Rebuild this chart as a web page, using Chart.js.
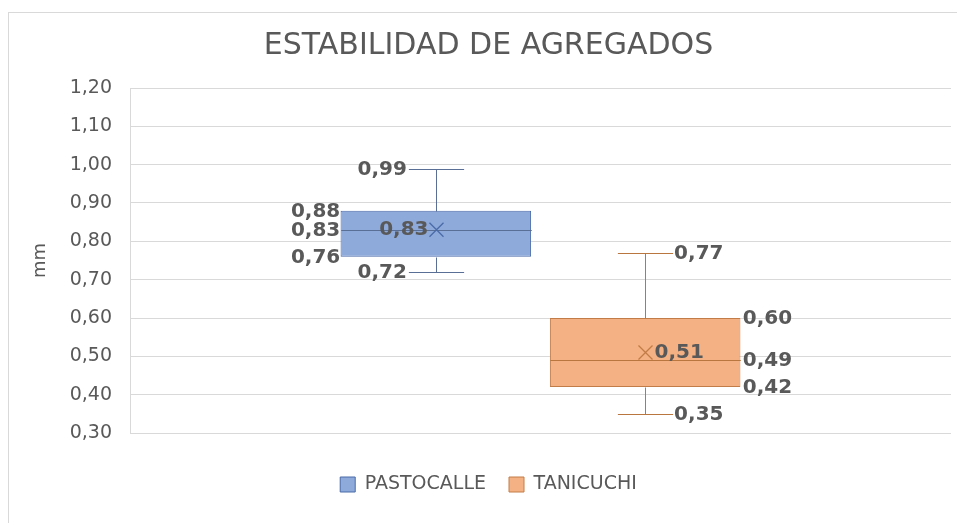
<!DOCTYPE html>
<html>
<head>
<meta charset="utf-8">
<title>Estabilidad de agregados</title>
<script src="https://cdn.jsdelivr.net/npm/chart.js@4/dist/chart.umd.min.js"></script>
<style>
  html, body { margin: 0; padding: 0; background: #fff; overflow: hidden; }
  #frame { position: absolute; left: 8px; top: 12px; width: 1000px; height: 600px; border: 1px solid #d9d9d9; }
  #wrap { position: absolute; left: 0; top: 0; width: 957px; height: 523px; }
</style>
</head>
<body>
<div id="frame"></div>
<div id="wrap"><canvas id="boxChart"></canvas></div>
<script>
// box plot summary per site (mm)
const seriesNames = ["PASTOCALLE", "TANICUCHI"];
const minValues = [0.72, 0.35];
const q1Values = [0.76, 0.42];
const medianValues = [0.83, 0.49];
const q3Values = [0.88, 0.60];
const maxValues = [0.99, 0.77];
const meanValues = [0.83, 0.51];
const yTickValues = [0.30, 0.40, 0.50, 0.60, 0.70, 0.80, 0.90, 1.00, 1.10, 1.20];

const fillColors = ["#8eaadb", "#f4b183"];
const edgeColors = ["#4a6aa8", "#c27c48"];
const whiskerColors = ["#5a6f96", "#b9773f"];
const labelSide = ["left", "right"];
const textColor = "#595959";

const fmt = v => v.toFixed(2).replace(".", ",");

// whiskers, median, mean marker and value labels drawn on top of the floating bars
const boxPlotPlugin = {
  id: "boxWhiskers",
  afterDatasetsDraw(chart) {
    const ctx = chart.ctx;
    const y = chart.scales.y;
    const px = v => Math.round(y.getPixelForValue(v)) + 0.5;

    chart.data.datasets.forEach((ds, i) => {
      const bar = chart.getDatasetMeta(i).data[0];
      const cx = Math.round(bar.x) + 0.5;
      const half = bar.width / 2;
      const capHalf = bar.width * 0.145;
      const yMin = px(minValues[i]);
      const yQ1 = px(q1Values[i]);
      const yMed = px(medianValues[i]);
      const yQ3 = px(q3Values[i]);
      const yMax = px(maxValues[i]);
      const yMean = y.getPixelForValue(meanValues[i]);

      ctx.save();
      ctx.lineWidth = 1;
      ctx.strokeStyle = whiskerColors[i];
      ctx.beginPath();
      ctx.moveTo(cx, yQ3); ctx.lineTo(cx, yMax);
      ctx.moveTo(cx - capHalf, yMax); ctx.lineTo(cx + capHalf, yMax);
      ctx.moveTo(cx, yQ1); ctx.lineTo(cx, yMin);
      ctx.moveTo(cx - capHalf, yMin); ctx.lineTo(cx + capHalf, yMin);
      ctx.moveTo(cx - half, yMed); ctx.lineTo(cx + half, yMed);
      ctx.stroke();

      // mean marker
      const m = 7;
      ctx.strokeStyle = edgeColors[i];
      ctx.lineWidth = 1.3;
      ctx.beginPath();
      ctx.moveTo(cx - m, yMean - m); ctx.lineTo(cx + m, yMean + m);
      ctx.moveTo(cx + m, yMean - m); ctx.lineTo(cx - m, yMean + m);
      ctx.stroke();

      // value labels
      ctx.fillStyle = textColor;
      ctx.font = "bold 20px 'DejaVu Sans'";
      ctx.textBaseline = "middle";
      const left = labelSide[i] === "left";
      ctx.textAlign = left ? "right" : "left";
      const capX = left ? cx - capHalf - 2 : cx + capHalf + 1;
      const boxX = left ? cx - half - 1 : cx + half + 2;
      const meanX = left ? cx - m - 1 : cx + m + 2;
      ctx.fillText(fmt(maxValues[i]), capX, yMax);
      ctx.fillText(fmt(minValues[i]), capX, yMin);
      ctx.fillText(fmt(q3Values[i]), boxX, yQ3);
      ctx.fillText(fmt(medianValues[i]), boxX, yMed);
      ctx.fillText(fmt(q1Values[i]), boxX, yQ1);
      ctx.fillText(fmt(meanValues[i]), meanX, yMean);
      ctx.restore();
    });
  }
};

const datasets = seriesNames.map((name, i) => ({
  label: name,
  data: [[q1Values[i], q3Values[i]]],
  backgroundColor: fillColors[i],
  borderColor: edgeColors[i],
  borderWidth: 1,
  borderSkipped: false,
  categoryPercentage: 0.51,
  barPercentage: 0.91
}));

new Chart(document.getElementById("boxChart"), {
  type: "bar",
  data: { labels: [""], datasets: datasets },
  plugins: [boxPlotPlugin],
  options: {
    responsive: true,
    maintainAspectRatio: false,
    animation: false,
    layout: { padding: { left: 26, right: 6, top: 0, bottom: 19 } },
    plugins: {
      title: {
        display: true,
        text: "ESTABILIDAD DE AGREGADOS",
        color: textColor,
        font: { family: "DejaVu Sans", size: 30, weight: "normal" },
        padding: { top: 28, bottom: 24 }
      },
      legend: {
        position: "bottom",
        labels: {
          color: textColor,
          font: { family: "DejaVu Sans", size: 19 },
          boxWidth: 15,
          boxHeight: 15,
          padding: 23
        }
      },
      tooltip: { enabled: false }
    },
    scales: {
      x: {
        display: true,
        afterFit(s) { s.height = 19; },
        grid: { display: false },
        border: { display: false },
        ticks: { display: false }
      },
      y: {
        min: 0.3,
        max: 1.2,
        afterBuildTicks(s) { s.ticks = yTickValues.map(v => ({ value: v })); },
        afterFit(s) { s.width = 104; },
        grid: { color: "#d9d9d9", drawTicks: false },
        border: { display: true, color: "#d9d9d9" },
        ticks: {
          color: textColor,
          font: { family: "DejaVu Sans", size: 19 },
          padding: 18,
          callback: v => fmt(v)
        },
        title: {
          display: true,
          text: "mm",
          color: textColor,
          font: { family: "DejaVu Sans", size: 18 }
        }
      }
    }
  }
});
</script>
</body>
</html>
